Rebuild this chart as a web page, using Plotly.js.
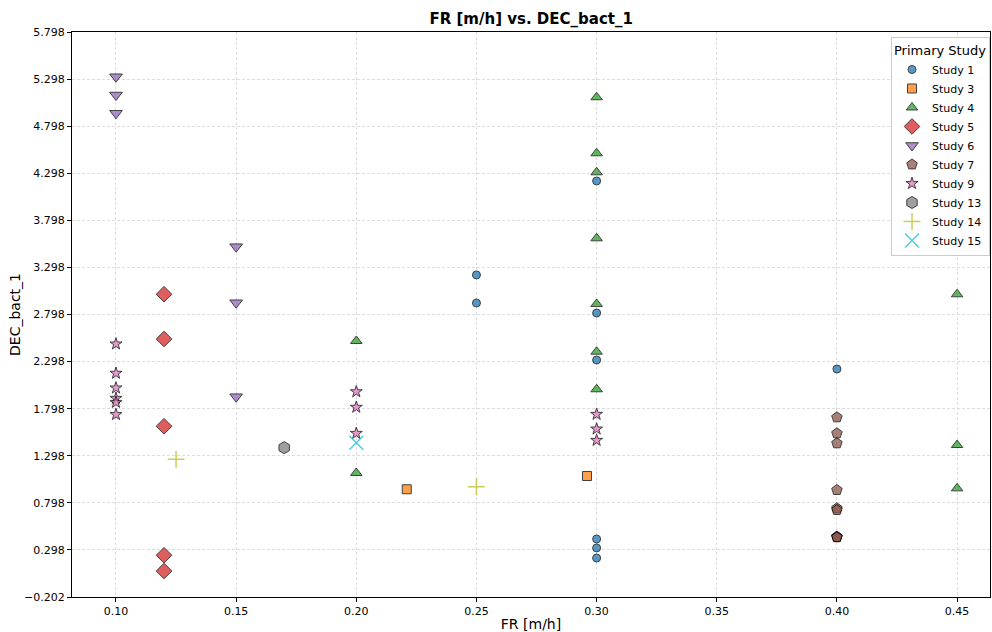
<!DOCTYPE html>
<html>
<head>
<meta charset="utf-8">
<script src="https://cdn.plot.ly/plotly-3.0.1.min.js"></script>
<style>html,body{margin:0;padding:0;background:#fff;}#chart{width:992px;height:632px;}</style>
</head>
<body>
<div id="chart"></div>
<script>
// Data
const studyNames = ["Study 1","Study 3","Study 4","Study 5","Study 6","Study 7","Study 9","Study 13","Study 14","Study 15"];
const s1x = [0.25,0.25,0.30,0.30,0.30,0.30,0.30,0.30,0.40];
const s1y = [3.218,2.920,4.216,2.814,2.315,0.414,0.319,0.212,2.219];
const s3x = [0.221,0.296];
const s3y = [0.942,1.083];
const s4x = [0.20,0.20,0.30,0.30,0.30,0.30,0.30,0.30,0.30,0.45,0.45,0.45];
const s4y = [2.517,1.115,5.105,4.510,4.308,3.607,2.910,2.403,2.004,3.013,1.412,0.952];
const s5x = [0.12,0.12,0.12,0.12,0.12];
const s5y = [3.013,2.538,1.611,0.241,0.074];
const s6x = [0.10,0.10,0.10,0.15,0.15,0.15];
const s6y = [5.323,5.129,4.935,3.518,2.923,1.925];
const s7x = [0.40,0.40,0.40,0.40,0.40,0.40,0.40,0.40,0.40];
const s7y = [1.706,1.536,1.430,0.934,0.740,0.722,0.440,0.436,0.432];
const s9x = [0.10,0.10,0.10,0.10,0.10,0.10,0.20,0.20,0.20,0.30,0.30,0.30];
const s9y = [2.485,2.174,2.018,1.908,1.865,1.736,1.978,1.813,1.536,1.738,1.582,1.462];
const s13x = [0.17];
const s13y = [1.384];
const s14x = [0.125,0.25];
const s14y = [1.260,0.970];
const s15x = [0.20];
const s15y = [1.437];
const xTicks = [0.10,0.15,0.20,0.25,0.30,0.35,0.40,0.45];
const yTicks = [-0.202,0.298,0.798,1.298,1.798,2.298,2.798,3.298,3.798,4.298,4.798,5.298,5.798];

const xs = [s1x,s3x,s4x,s5x,s6x,s7x,s9x,s13x,s14x,s15x];
const ys = [s1y,s3y,s4y,s5y,s6y,s7y,s9y,s13y,s14y,s15y];
const colors = ["#1f77b4","#ff7f0e","#2ca02c","#d62728","#9467bd","#8c564b","#e377c2","#7f7f7f","#bcbd22","#17becf"];
const symbols = ["circle","square","triangle-up","diamond","triangle-down","pentagon","star","hexagon","cross-thin","x-thin"];
const sizes = [8,9,10,12,11,11,9,12,12,14];

const traces = studyNames.map((n,i)=>{
  const lineOnly = symbols[i].endsWith("thin");
  return {
    type:"scatter", mode:"markers", name:n, x:xs[i], y:ys[i],
    marker:{symbol:symbols[i], size:sizes[i], color:colors[i], opacity:0.75,
      line:{color: lineOnly ? colors[i] : "#000", width: lineOnly ? 1.5 : 1}}
  };
});

const grid = "#dddddd";
const layout = {
  width:992, height:632,
  margin:{l:72, r:2, t:32, b:35},
  paper_bgcolor:"#fff", plot_bgcolor:"#fff",
  font:{family:"DejaVu Sans", size:11, color:"#000"},
  title:{text:"<b>FR [m/h] vs. DEC_bact_1</b>", font:{size:15, family:"DejaVu Sans"}, x:0.5355, xanchor:"center", y:0.97, yanchor:"middle"},
  xaxis:{range:[0.0817,0.4637], tickvals:xTicks, tickformat:".2f", showgrid:true, gridcolor:grid, griddash:"3px,2px", gridwidth:1,
    showline:true, linecolor:"#000", linewidth:1, mirror:true, ticks:"outside", ticklen:4, tickcolor:"#000", zeroline:false,
    title:{text:"FR [m/h]", font:{size:14}, standoff:4}, tickfont:{size:11}},
  yaxis:{range:[-0.202,5.798], tickvals:yTicks, tickformat:".3f", showgrid:true, gridcolor:grid, griddash:"3px,2px", gridwidth:1,
    showline:true, linecolor:"#000", linewidth:1, mirror:true, ticks:"outside", ticklen:4, tickcolor:"#000", zeroline:false,
    automargin:true,
    title:{text:"DEC_bact_1", font:{size:14}, standoff:0}, tickfont:{size:11}},
  legend:{x:1, xanchor:"right", y:0.991, yanchor:"top", bgcolor:"rgba(255,255,255,0.85)", bordercolor:"#cccccc", borderwidth:1,
    title:{text:"Primary Study", font:{size:13}}, font:{size:11}, tracegroupgap:0, itemwidth:30},
  showlegend:true
};
Plotly.newPlot("chart", traces, layout, {displayModeBar:false, staticPlot:true});
</script>
</body>
</html>
